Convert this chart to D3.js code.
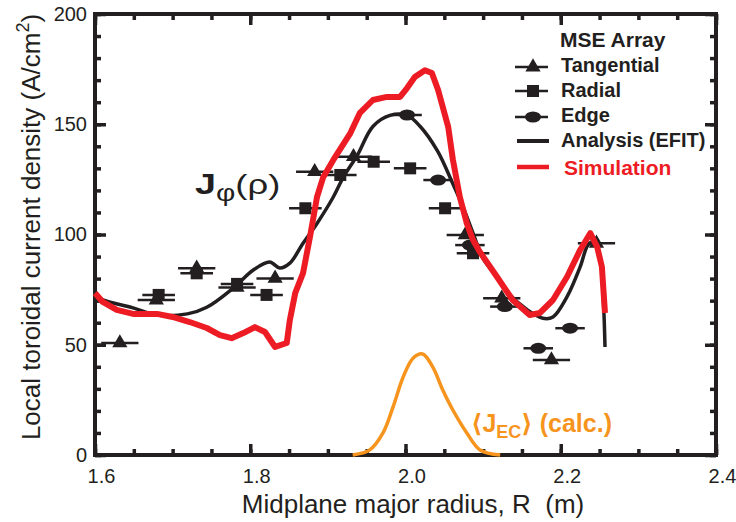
<!DOCTYPE html>
<html>
<head>
<meta charset="utf-8">
<script src="https://cdn.jsdelivr.net/npm/d3@7"></script>
<style>
body { margin: 0; background: #fff; }
text { font-family: "Liberation Sans", Arial, Helvetica, "DejaVu Sans", sans-serif; fill: #231f20; }
</style>
</head>
<body>
<script>
// MSE array measurements (R in m, J in A/cm2)
var tangR = [1.632, 1.679, 1.731, 1.783, 1.832, 1.883, 1.933, 2.077, 2.124, 2.188, 2.246];
var tangJ = [50.8, 70.3, 84.7, 76.0, 80.1, 128.5, 135.3, 99.8, 71.1, 43.1, 96.0];
var tangErr = 0.024;

var radR = [1.682, 1.731, 1.783, 1.821, 1.871, 1.916, 1.959, 2.006, 2.051, 2.087];
var radJ = [72.6, 82.4, 77.6, 72.6, 111.9, 127.0, 133.0, 130.0, 111.9, 91.5];
var radErr = 0.021;

var edgeR = [2.002, 2.042, 2.083, 2.128, 2.171, 2.212];
var edgeJ = [154.2, 124.7, 95.2, 67.3, 48.4, 57.5];
var edgeErr = 0.019;

// EFIT analysis
var efitR = [1.600, 1.610, 1.649, 1.680, 1.719, 1.744, 1.778, 1.804, 1.825, 1.838, 1.851, 1.868, 1.886, 1.907,
             1.920, 1.938, 1.958, 1.980, 2.002, 2.019, 2.041, 2.061, 2.074, 2.087, 2.100, 2.115, 2.131,
             2.157, 2.177, 2.190, 2.208, 2.225, 2.235, 2.242, 2.251, 2.254, 2.256, 2.257];
var efitJ = [72.0, 70.3, 66.7, 63.5, 64.0, 67.0, 75.7, 83.9, 87.5, 84.8, 87.0, 96.0, 105.0, 117.0,
             126.0, 136.0, 149.0, 154.0, 154.0, 149.0, 138.0, 123.0, 112.6, 100.6, 89.0, 82.0, 74.0,
             65.8, 62.0, 62.6, 71.7, 85.3, 95.2, 96.6, 88.4, 76.0, 61.0, 49.0];

// simulation
var simR = [1.600, 1.610, 1.628, 1.649, 1.680, 1.700, 1.722, 1.744, 1.761, 1.776, 1.791, 1.806, 1.819, 1.832,
            1.847, 1.851, 1.858, 1.868, 1.877, 1.886, 1.894, 1.907, 1.929, 1.941, 1.958, 1.976, 1.993,
            2.002, 2.012, 2.025, 2.034, 2.042, 2.048, 2.055, 2.061, 2.070, 2.079, 2.087, 2.096, 2.118,
            2.138, 2.160, 2.173, 2.190, 2.208, 2.225, 2.238, 2.247, 2.253, 2.257];
var simJ = [73.5, 69.4, 65.8, 64.0, 64.0, 62.6, 60.3, 57.6, 54.4, 53.0, 55.3, 58.0, 55.8, 49.0,
            50.8, 61.2, 73.5, 82.5, 99.0, 117.0, 126.0, 133.8, 146.0, 155.0, 161.0, 162.4, 162.4,
            166.4, 171.4, 174.5, 173.2, 165.5, 157.8, 148.8, 134.0, 117.0, 105.0, 97.5, 92.0, 80.7,
            70.3, 63.5, 64.4, 70.3, 80.7, 93.0, 100.6, 94.3, 85.3, 64.4];

// calculated ECCD profile
var ecR = [1.932, 1.954, 1.971, 1.984, 1.997, 2.010, 2.022, 2.035, 2.048, 2.061, 2.079, 2.096, 2.122];
var ecJ = [0.0, 2.3, 10.0, 21.8, 35.4, 44.0, 45.8, 40.0, 29.5, 20.4, 10.0, 2.3, 0.0];

var xTicks = [1.6, 1.8, 2.0, 2.2, 2.4];
var yTicks = [0, 50, 100, 150, 200];
var legendLabels = ["Tangential", "Radial", "Edge", "Analysis (EFIT)", "Simulation"];

var black = "#231f20", red = "#ed1c24", orange = "#f7941d";

var margin = {top: 14, right: 20, bottom: 67, left: 95},
    width = 736 - margin.left - margin.right,
    height = 522 - margin.top - margin.bottom;

var x = d3.scaleLinear().domain([1.6, 2.4]).range([0, width]);
var y = d3.scaleLinear().domain([0, 200]).range([height, 0]);

var svg = d3.select("body").append("svg")
  .attr("width", 736)
  .attr("height", 522)
  .append("g")
  .attr("transform", "translate(" + margin.left + "," + margin.top + ")");

function styleAxis(g) {
  g.select(".domain").remove();
  g.selectAll(".tick line").attr("stroke", black).attr("stroke-width", 3.5);
  g.selectAll(".tick text").style("font-size", "20px").attr("fill", black);
}

var minorX = d3.range(1.6, 2.4001, 0.05), minorY = d3.range(0, 200.1, 10);

// bottom
svg.append("g").attr("transform", "translate(0," + height + ")")
  .call(d3.axisBottom(x).tickValues(minorX).tickSize(-6).tickSizeOuter(0).tickFormat("")).call(styleAxis);
svg.append("g").attr("class", "x-axis").attr("transform", "translate(0," + height + ")")
  .call(d3.axisBottom(x).tickValues(xTicks).tickSize(-11).tickSizeOuter(0).tickPadding(14).tickFormat(d3.format(".1f")))
  .call(styleAxis)
  .selectAll(".tick text").attr("dx", 6);
// top
svg.append("g").call(d3.axisTop(x).tickValues(minorX).tickSize(-6).tickSizeOuter(0).tickFormat("")).call(styleAxis);
svg.append("g").call(d3.axisTop(x).tickValues(xTicks).tickSize(-11).tickSizeOuter(0).tickFormat("")).call(styleAxis);
// left
svg.append("g").call(d3.axisLeft(y).tickValues(minorY).tickSize(-6).tickSizeOuter(0).tickFormat("")).call(styleAxis);
svg.append("g").attr("class", "y-axis")
  .call(d3.axisLeft(y).tickValues(yTicks).tickSize(-11).tickSizeOuter(0).tickPadding(8))
  .call(styleAxis);
// right
svg.append("g").attr("transform", "translate(" + width + ",0)")
  .call(d3.axisRight(y).tickValues(minorY).tickSize(-6).tickSizeOuter(0).tickFormat("")).call(styleAxis);
svg.append("g").attr("transform", "translate(" + width + ",0)")
  .call(d3.axisRight(y).tickValues(yTicks).tickSize(-11).tickSizeOuter(0).tickFormat("")).call(styleAxis);

svg.append("rect")
  .attr("width", width).attr("height", height)
  .attr("fill", "none").attr("stroke", black).attr("stroke-width", 4);

// axis titles
svg.append("text")
  .attr("x", 413 - margin.left).attr("y", height + 58)
  .attr("text-anchor", "middle")
  .style("font-size", "26px")
  .style("white-space", "pre")
  .text("Midplane major radius, R  (m)");

var yt = svg.append("text")
  .attr("transform", "translate(" + (40 - margin.left) + "," + (227 - margin.top) + ") rotate(-90)")
  .attr("text-anchor", "middle")
  .style("font-size", "26px");
yt.append("tspan").text("Local toroidal current density (A/cm");
yt.append("tspan").attr("dy", -11).style("font-size", "18px").text("2");
yt.append("tspan").attr("dy", 11).text(")");

// markers with horizontal error bars
function drawPoints(rs, js, err, shape) {
  var pts = rs.map(function (r, i) { return {r: r, j: js[i]}; });
  var g = svg.append("g");
  g.selectAll("line").data(pts).enter().append("line")
    .attr("x1", function (d) { return x(d.r - err); })
    .attr("x2", function (d) { return x(d.r + err); })
    .attr("y1", function (d) { return y(d.j); })
    .attr("y2", function (d) { return y(d.j); })
    .attr("stroke", black).attr("stroke-width", 2.5);
  g.selectAll(".mk").data(pts).enter().append(shape === "circle" ? "ellipse" : "path")
    .attr("class", "mk")
    .each(function (d) {
      var el = d3.select(this);
      if (shape === "circle") {
        el.attr("cx", x(d.r)).attr("cy", y(d.j)).attr("rx", 8).attr("ry", 5.5);
      } else {
        el.attr("d", d3.symbol(shape === "triangle" ? d3.symbolTriangle : d3.symbolSquare)
            .size(shape === "triangle" ? 100 : 144)())
          .attr("transform", "translate(" + x(d.r) + "," + y(d.j) + ")");
      }
    })
    .attr("fill", black);
}
drawPoints(tangR, tangJ, tangErr, "triangle");
drawPoints(radR, radJ, radErr, "square");
drawPoints(edgeR, edgeJ, edgeErr, "circle");

function drawLine(rs, js, color, w, curve) {
  var line = d3.line()
    .x(function (d) { return x(d[0]); })
    .y(function (d) { return y(d[1]); })
    .curve(curve);
  svg.append("path")
    .datum(rs.map(function (r, i) { return [r, js[i]]; }))
    .attr("d", line)
    .attr("fill", "none")
    .attr("stroke", color)
    .attr("stroke-width", w)
    .attr("stroke-linejoin", "round");
}
drawLine(efitR, efitJ, black, 3.5, d3.curveCatmullRom);
drawLine(simR, simJ, red, 6, d3.curveLinear);
drawLine(ecR, ecJ, orange, 3.5, d3.curveCatmullRom);

// annotations
var jl = svg.append("text")
  .attr("transform", "translate(" + (195 - margin.left) + "," + (194 - margin.top) + ") scale(1.3,1)");
jl.append("tspan").style("font-size", "29px").style("font-weight", "bold").text("J");
jl.append("tspan").attr("dy", 7).style("font-size", "23px").text("\u03c6");
jl.append("tspan").attr("dy", -7).style("font-size", "28px").text("(\u03c1)");

var ec = svg.append("text").attr("x", 471 - margin.left).attr("y", 432 - margin.top)
  .style("font-weight", "bold").style("font-size", "25px");
ec.append("tspan").attr("fill", orange).text("\u27e8J");
ec.append("tspan").attr("fill", orange).attr("dy", 6).style("font-size", "18px").text("EC");
ec.append("tspan").attr("fill", orange).attr("dy", -6).text("\u27e9 (calc.)");

// legend
var leg = svg.append("g").attr("transform", "translate(" + (-margin.left) + "," + (-margin.top) + ")");
leg.append("text").attr("x", 560).attr("y", 47)
  .style("font-size", "21px").style("font-weight", "bold").text("MSE Array");
var rowY = [67, 91, 117, 141, 167];
var baseY = [72, 97, 122, 147, 175];
legendLabels.forEach(function (lab, i) {
  var cy = rowY[i];
  if (i < 3) {
    leg.append("line").attr("x1", 515).attr("x2", 548).attr("y1", cy).attr("y2", cy)
      .attr("stroke", black).attr("stroke-width", 2.5);
    if (i === 2) {
      leg.append("ellipse").attr("cx", 533).attr("cy", cy).attr("rx", 8).attr("ry", 5.5).attr("fill", black);
    } else {
      leg.append("path")
        .attr("d", d3.symbol(i === 0 ? d3.symbolTriangle : d3.symbolSquare).size(i === 0 ? 100 : 144)())
        .attr("transform", "translate(533," + cy + ")").attr("fill", black);
    }
  } else {
    leg.append("line").attr("x1", 517).attr("x2", 549).attr("y1", cy).attr("y2", cy)
      .attr("stroke", i === 3 ? black : red).attr("stroke-width", i === 3 ? 4 : 4.5);
  }
  leg.append("text").attr("x", i === 4 ? 564 : 561).attr("y", baseY[i])
    .style("font-size", i === 4 ? "21px" : "20px").style("font-weight", "bold")
    .style("fill", i === 4 ? red : black)
    .text(lab);
});
</script>
</body>
</html>
